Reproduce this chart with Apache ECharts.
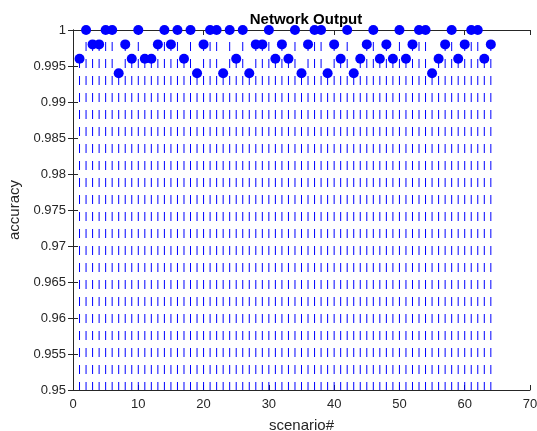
<!DOCTYPE html>
<html>
<head>
<meta charset="utf-8">
<script src="https://cdn.jsdelivr.net/npm/echarts@6/dist/echarts.min.js"></script>
<style>
html,body{margin:0;padding:0;background:#fff;}
#chart{width:537px;height:431px;}
</style>
</head>
<body>
<div id="chart"></div>
<script>
const scenarios = [1,2,3,4,5,6,7,8,9,10,11,12,13,14,15,16,17,18,19,20,21,22,23,24,25,26,27,28,29,30,31,32,
  33,34,35,36,37,38,39,40,41,42,43,44,45,46,47,48,49,50,51,52,53,54,55,56,57,58,59,60,61,62,63,64];
const accuracy = [0.996,1,0.998,0.998,1,1,0.994,0.998,0.996,1,0.996,0.996,0.998,1,0.998,1,
  0.996,1,0.994,0.998,1,1,0.994,1,0.996,1,0.994,0.998,0.998,1,0.996,0.998,
  0.996,1,0.994,0.998,1,1,0.994,0.998,0.996,1,0.994,0.996,0.998,1,0.996,0.998,
  0.996,1,0.996,0.998,1,1,0.994,0.996,0.998,1,0.996,0.998,1,1,0.996,0.998];
const xTicks = [0,10,20,30,40,50,60,70];
const yTicks = [0.95,0.955,0.96,0.965,0.97,0.975,0.98,0.985,0.99,0.995,1];
const stemBase = 0.95;

const pts = scenarios.map((s,i)=>[s, accuracy[i]]);
const axisColor = '#262626';
const font = '"Liberation Sans", Arial, Helvetica, sans-serif';

const chart = echarts.init(document.getElementById('chart'), null, {renderer:'canvas'});
const yAxisCommon = {
  type:'value', min:yTicks[0], max:yTicks[yTicks.length-1], interval:0.005,
  axisLine:{show:true, lineStyle:{color:axisColor, width:1}},
  axisTick:{show:true, inside:true, length:5, lineStyle:{color:axisColor}},
  splitLine:{show:false}
};
const xAxisCommon = {
  type:'value', min:xTicks[0], max:xTicks[xTicks.length-1], interval:10,
  axisLine:{show:true, onZero:false, lineStyle:{color:axisColor, width:1}},
  axisTick:{show:true, inside:true, length:5, lineStyle:{color:axisColor}},
  splitLine:{show:false}
};
chart.setOption({
  animation:false,
  backgroundColor:'#fff',
  title:{text:'Network Output', left:301, textAlign:'center', top:7,
    textStyle:{fontFamily:font, fontSize:15, fontWeight:'bold', color:'#000'}},
  grid:{left:73, right:7, top:30, bottom:41, containLabel:false, outerBoundsMode:'none'},
  xAxis:[
    Object.assign({}, xAxisCommon, {position:'bottom',
      name:'scenario#', nameLocation:'middle', nameGap:28,
      nameTextStyle:{fontFamily:font, fontSize:15, color:axisColor},
      axisLabel:{show:true, margin:8, fontFamily:font, fontSize:13, color:axisColor}}),
    Object.assign({}, xAxisCommon, {position:'top', axisLabel:{show:false}})
  ],
  yAxis:[
    Object.assign({}, yAxisCommon, {position:'left',
      name:'accuracy', nameLocation:'middle', nameGap:45, nameRotate:90,
      nameTextStyle:{fontFamily:font, fontSize:15, color:axisColor},
      axisLabel:{show:true, margin:7, fontFamily:font, fontSize:13, color:axisColor,
        formatter:v=>String(+v.toFixed(3))}}),
    Object.assign({}, yAxisCommon, {position:'right', axisLabel:{show:false}})
  ],
  series:[
    {
      type:'custom', xAxisIndex:0, yAxisIndex:0, data:pts, z:2,
      renderItem:function(params, api){
        const p0 = api.coord([api.value(0), stemBase]);
        const p1 = api.coord([api.value(0), api.value(1)]);
        return {type:'line', shape:{x1:p0[0], y1:p0[1], x2:p1[0], y2:p1[1]},
          style:{stroke:'#0000ff', lineWidth:1, lineDash:[9,8], lineDashOffset:1}};
      }
    },
    {
      type:'scatter', xAxisIndex:0, yAxisIndex:0, data:pts, z:3, clip:false,
      symbol:'circle', symbolSize:10,
      itemStyle:{color:'#0000ff', borderColor:'#0000ff', borderWidth:0, opacity:1}
    }
  ]
});
</script>
</body>
</html>
